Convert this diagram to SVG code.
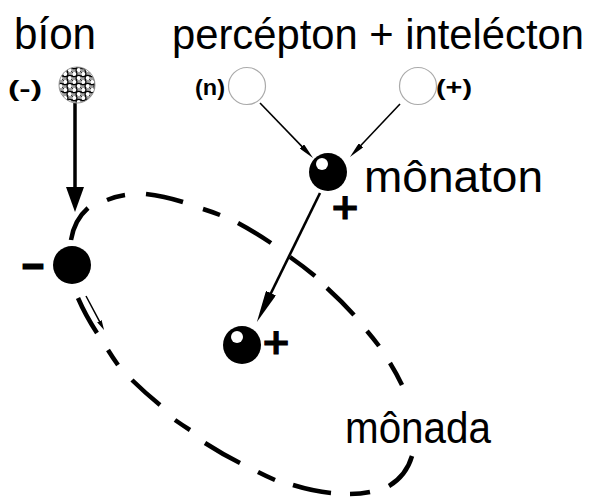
<svg xmlns="http://www.w3.org/2000/svg" width="591" height="497" viewBox="0 0 591 497">
<style>
.lbl{font-family:"Liberation Sans",Arial,sans-serif;font-size:45px;fill:#000}
.ttl{font-size:42px}
.sgn{font-family:"Liberation Sans",Arial,sans-serif;font-size:22px;font-weight:bold;fill:#000}
.pm{font-family:"DejaVu Sans",sans-serif;font-size:36px;font-weight:bold;fill:#000;stroke:#000;stroke-width:1;text-anchor:middle}
.ball{fill:#000}
.hl{fill:#fff}
.ghost{fill:#fff;stroke:#aaa;stroke-width:1.2}
.thin{stroke:#000;stroke-width:1.6;fill:none}
.orbit path{fill:none;stroke:#000;stroke-width:4.5}
</style>
<defs>
<pattern id="rings" width="9" height="8" patternUnits="userSpaceOnUse">
<rect width="9" height="8" fill="#a0a0a0"/>
<circle cx="2.25" cy="2" r="2.7" fill="#fff" stroke="#000" stroke-width="1.2"/>
<circle cx="6.75" cy="6" r="2.7" fill="#fff" stroke="#000" stroke-width="1.2"/>
</pattern>
<marker id="mBig" markerUnits="userSpaceOnUse" markerWidth="25" markerHeight="18" refX="4" refY="9" orient="auto"><path d="M0,0 L25,9 L0,18 z" fill="#000"/></marker>
<marker id="mMed" markerUnits="userSpaceOnUse" markerWidth="32" markerHeight="11" refX="4" refY="5.5" orient="auto"><path d="M0,0 L32,5.5 L0,11 z" fill="#000"/></marker>
<marker id="mSmall" markerUnits="userSpaceOnUse" markerWidth="16" markerHeight="6" refX="3" refY="3" orient="auto"><path d="M0,0 L16,3 L0,6 z" fill="#000"/></marker>
<marker id="mTiny" markerUnits="userSpaceOnUse" markerWidth="10" markerHeight="5" refX="2" refY="2.5" orient="auto"><path d="M0,0 L10,2.5 L0,5 z" fill="#000"/></marker>
</defs>
<rect width="591" height="497" fill="#fff"/>

<g id="connectors">
<g id="monada-orbit" class="orbit">
<path d="M88 208 A207 101 38.4 0 0 71 240"/>
<path d="M78 298 A207 101 38.4 0 0 97 333"/>
<path d="M108 350 A207 101 38.4 0 0 118 365"/>
<path d="M132 380 A207 101 38.4 0 0 160 405"/>
<path d="M175 420 A207 101 38.4 0 0 190 430"/>
<path d="M205 443 A207 101 38.4 0 0 240 463"/>
<path d="M258 472 A207 101 38.4 0 0 275 480"/>
<path d="M293 485 A207 101 38.4 0 0 331 493"/>
<path d="M350 494 A207 101 38.4 0 0 370 492"/>
<path d="M389 486 A207 101 38.4 0 0 412 456"/>
<path d="M402 385 A207 101 38.4 0 0 390 363"/>
<path d="M379 346 A207 101 38.4 0 0 367 331"/>
<path d="M354 315 A207 101 38.4 0 0 327 288"/>
<path d="M315 276 A207 101 38.4 0 0 290 257"/>
<path d="M271 243 A207 101 38.4 0 0 238 223"/>
<path d="M220 215 A207 101 38.4 0 0 203 209"/>
<path d="M183 202 A207 101 38.4 0 0 146 194"/>
<path d="M125 195 A207 101 38.4 0 0 107 200"/>
</g>
<line x1="75" y1="103" x2="75" y2="191" stroke="#000" stroke-width="3.5" marker-end="url(#mBig)"/>
<line x1="260" y1="103" x2="304" y2="148.6" class="thin" marker-end="url(#mSmall)"/>
<line x1="400" y1="104" x2="358.9" y2="147.5" class="thin" marker-end="url(#mSmall)"/>
<line x1="320" y1="193" x2="269.2" y2="296.8" stroke="#000" stroke-width="2.6" marker-end="url(#mMed)"/>
<line x1="86" y1="296" x2="100.3" y2="322.9" stroke="#000" stroke-width="1.5" marker-end="url(#mTiny)"/>
</g>

<g id="title-bion"><text class="lbl" x="14" y="49" textLength="82" lengthAdjust="spacingAndGlyphs">bíon</text></g>
<g id="title-percepton"><text class="lbl ttl" x="172" y="49" textLength="412" lengthAdjust="spacingAndGlyphs">percépton + intelécton</text></g>

<g id="bion-source">
<circle cx="77" cy="85" r="18" fill="url(#rings)" stroke="#999" stroke-width="1"/>
<text class="sgn" x="8" y="96" textLength="34" lengthAdjust="spacingAndGlyphs">(-)</text>
</g>

<g id="percepton">
<circle class="ghost" cx="247" cy="86" r="18.5"/>
<text class="sgn" x="195" y="95" textLength="30" lengthAdjust="spacingAndGlyphs">(n)</text>
</g>

<g id="intelecton">
<circle class="ghost" cx="418" cy="86" r="18.5"/>
<text class="sgn" x="436" y="95" textLength="36" lengthAdjust="spacingAndGlyphs">(+)</text>
</g>

<g id="monaton">
<circle class="ball" cx="328" cy="172" r="19"/>
<circle class="hl" cx="322" cy="164" r="6"/>
<text class="pm" x="345" y="219">+</text>
<text class="lbl" x="364" y="192" textLength="179" lengthAdjust="spacingAndGlyphs">mônaton</text>
</g>

<g id="bion">
<circle class="ball" cx="72" cy="265" r="19"/>
<text class="pm" x="33" y="277" textLength="26" lengthAdjust="spacingAndGlyphs">-</text>
</g>

<g id="particle-plus">
<circle class="ball" cx="242" cy="345" r="19"/>
<circle class="hl" cx="237" cy="337" r="6"/>
<text class="pm" x="276" y="354">+</text>
</g>

<g id="monada"><text class="lbl" x="345" y="443" textLength="146" lengthAdjust="spacingAndGlyphs">mônada</text></g>
</svg>
